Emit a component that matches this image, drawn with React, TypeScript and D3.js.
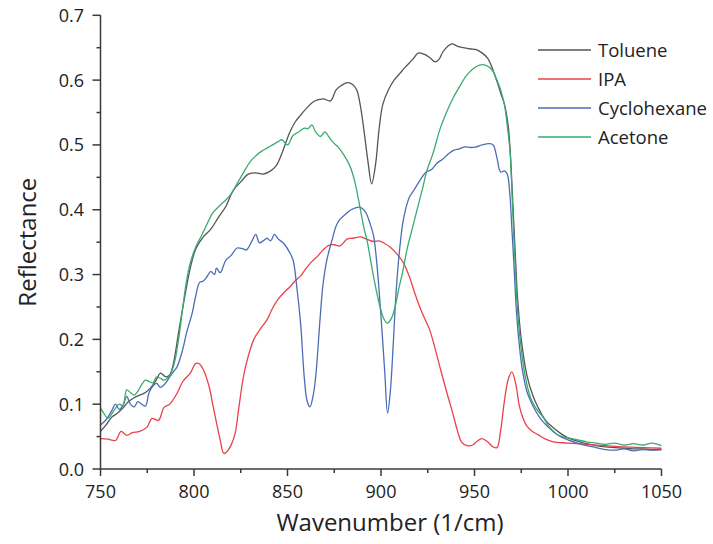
import React from "react";
import * as d3 from "d3";

const xTicks = [750, 800, 850, 900, 950, 1000, 1050];
const xMinor = [775, 825, 875, 925, 975, 1025];
const yTicks = [0, 0.1, 0.2, 0.3, 0.4, 0.5, 0.6, 0.7];
const yMinor = [0.05, 0.15, 0.25, 0.35, 0.45, 0.55, 0.65];

const seriesNames = ["Toluene", "IPA", "Cyclohexane", "Acetone"];
const seriesColors = ["#555555", "#ea4249", "#4a6db5", "#3aaa72"];

const toluene: [number, number][] = [[750,0.058],[753,0.068],[756,0.08],[759,0.086],[762,0.094],[765,0.104],[768,0.11],[771,0.114],[774,0.118],[777,0.126],[780,0.138],[782,0.148],[785,0.142],[787,0.145],[789,0.163],[792,0.215],[795,0.265],[798,0.31],[801,0.34],[805,0.358],[809,0.37],[813,0.388],[817,0.405],[821,0.43],[825,0.443],[829,0.455],[833,0.457],[837,0.455],[841,0.46],[844,0.468],[847,0.487],[851,0.518],[854,0.535],[857,0.546],[860,0.556],[864,0.567],[869,0.571],[873,0.568],[876,0.585],[879,0.592],[882,0.596],[885,0.593],[887,0.585],[889,0.56],[891,0.52],[893,0.475],[895,0.44],[897,0.468],[899,0.525],[901,0.563],[904,0.585],[907,0.6],[910,0.61],[913,0.62],[917,0.632],[920,0.642],[923,0.64],[926,0.635],[929,0.628],[931,0.632],[933,0.643],[936,0.653],[938,0.656],[941,0.652],[944,0.65],[948,0.648],[951,0.647],[954,0.642],[957,0.634],[959,0.622],[962,0.598],[964,0.58],[966,0.563],[968,0.53],[969,0.495],[970,0.44],[971,0.38],[972,0.32],[973,0.265],[975,0.2],[978,0.145],[981,0.115],[984,0.095],[988,0.075],[992,0.064],[996,0.055],[1000,0.048],[1005,0.043],[1010,0.039],[1015,0.036],[1020,0.034],[1025,0.033],[1030,0.032],[1035,0.031],[1040,0.031],[1045,0.03],[1050,0.03]];

const ipa: [number, number][] = [[750,0.047],[754,0.046],[758,0.044],[761,0.058],[764,0.052],[767,0.056],[771,0.058],[775,0.065],[777.5,0.078],[781,0.075],[784,0.095],[787,0.1],[791,0.117],[794,0.135],[798,0.148],[801,0.163],[803,0.162],[805,0.153],[808,0.128],[810,0.1],[812,0.072],[814,0.045],[816,0.024],[818,0.028],[820,0.038],[822,0.055],[824,0.095],[826,0.135],[828,0.163],[832,0.2],[836,0.218],[839,0.23],[842,0.248],[845,0.262],[848,0.272],[851,0.28],[854,0.29],[857,0.298],[860,0.31],[863,0.32],[866,0.328],[869,0.338],[872,0.345],[875,0.346],[878,0.344],[882,0.355],[885,0.356],[889,0.358],[892,0.355],[896,0.351],[899,0.352],[902,0.348],[905,0.342],[909,0.33],[912,0.318],[915,0.298],[918,0.272],[921,0.248],[924,0.228],[926,0.215],[929,0.185],[932,0.152],[935,0.12],[938,0.09],[941,0.058],[943,0.042],[946,0.036],[949,0.037],[951,0.042],[954,0.047],[957,0.042],[960,0.034],[962,0.033],[964,0.06],[966,0.105],[968,0.138],[970,0.15],[972,0.132],[974,0.097],[976,0.078],[978,0.066],[981,0.058],[984,0.053],[988,0.046],[992,0.042],[1000,0.04],[1010,0.038],[1020,0.036],[1030,0.034],[1040,0.033],[1050,0.032]];

const cyclohexane: [number, number][] = [[750,0.068],[753,0.076],[756,0.09],[758,0.1],[760,0.092],[762,0.098],[764,0.112],[766,0.1],[768,0.096],[770,0.104],[772,0.1],[774,0.097],[776,0.118],[778,0.128],[780,0.132],[782,0.126],[784,0.13],[787,0.142],[789,0.15],[791,0.158],[794,0.185],[796,0.21],[799,0.24],[801,0.268],[803,0.288],[805,0.29],[807,0.297],[809,0.305],[811,0.3],[812,0.31],[814,0.303],[817,0.322],[820,0.33],[823,0.341],[826,0.34],[828,0.338],[831,0.352],[833,0.362],[835,0.349],[837,0.352],[839,0.356],[841,0.352],[843,0.362],[845,0.355],[848,0.348],[851,0.335],[853,0.322],[855,0.28],[857,0.225],[859,0.14],[860.5,0.105],[862,0.096],[863.5,0.11],[865,0.14],[867.5,0.235],[869,0.285],[871,0.322],[874,0.355],[876,0.375],[878,0.385],[881,0.393],[884,0.4],[888,0.404],[890,0.402],[892,0.395],[894,0.38],[896,0.36],[898,0.31],[900,0.235],[902,0.15],[903.5,0.086],[905,0.12],[906.5,0.19],[908,0.27],[910,0.34],[912,0.385],[915,0.418],[918,0.432],[921,0.446],[924,0.458],[927,0.462],[930,0.472],[933,0.478],[936,0.486],[939,0.492],[942,0.494],[945,0.497],[948,0.496],[951,0.497],[954,0.5],[958,0.502],[960,0.5],[962,0.48],[964,0.458],[966,0.46],[967.5,0.455],[969,0.42],[970,0.37],[971,0.32],[972.5,0.24],[974,0.19],[975.5,0.155],[978,0.12],[980,0.105],[983,0.088],[986,0.075],[989,0.066],[992,0.058],[996,0.05],[1000,0.045],[1005,0.04],[1010,0.036],[1015,0.033],[1020,0.03],[1025,0.029],[1030,0.031],[1035,0.028],[1040,0.03],[1045,0.029],[1050,0.03]];

const acetone: [number, number][] = [[750,0.094],[752,0.085],[754,0.078],[756,0.085],[758,0.094],[760,0.1],[762,0.098],[764,0.122],[766,0.118],[768,0.114],[770,0.12],[772,0.13],[774,0.137],[776,0.135],[778,0.133],[780,0.142],[782,0.14],[784,0.137],[786,0.141],[788,0.15],[790,0.17],[792,0.205],[794,0.25],[796,0.29],[798,0.318],[801,0.343],[804,0.36],[807,0.378],[810,0.395],[814,0.407],[817,0.415],[820,0.425],[823,0.44],[826,0.455],[830,0.474],[833,0.483],[836,0.49],[839,0.495],[842,0.5],[845,0.505],[847,0.508],[850,0.5],[853,0.515],[856,0.52],[859,0.526],[861,0.525],[863,0.531],[865,0.52],[867.5,0.513],[870,0.52],[872,0.513],[874,0.505],[877,0.497],[880,0.485],[883,0.47],[885,0.454],[887,0.43],[889,0.4],[891,0.37],[892.5,0.353],[896,0.297],[899.5,0.25],[901.5,0.232],[903.4,0.225],[905.5,0.232],[907.5,0.25],[909.5,0.278],[911.8,0.307],[914,0.34],[917,0.374],[920,0.408],[922.5,0.436],[924.4,0.459],[927.8,0.487],[931.5,0.524],[935,0.55],[938.5,0.572],[942,0.59],[946,0.608],[951,0.621],[954.5,0.624],[958,0.62],[960,0.613],[962,0.6],[964,0.585],[966,0.562],[967.5,0.53],[969,0.49],[970,0.43],[971,0.36],[972,0.3],[973,0.245],[975,0.185],[977,0.145],[980,0.11],[983,0.093],[986.5,0.081],[990,0.065],[995,0.052],[1000,0.048],[1005,0.045],[1010,0.042],[1015,0.04],[1020,0.038],[1025,0.04],[1030,0.037],[1035,0.039],[1040,0.037],[1045,0.04],[1050,0.036]];

const seriesData = [toluene, ipa, cyclohexane, acetone];

const W = 713;
const H = 544;
const FONT = "'Open Sans', 'Noto Sans', sans-serif";
const AXIS = "#3a3a3a";

export default function App() {
  const x = d3.scaleLinear().domain([750, 1050]).range([100.5, 661.5]);
  const y = d3.scaleLinear().domain([0, 0.7]).range([469, 15.3]);
  const line = d3
    .line<[number, number]>()
    .x((d) => x(d[0]))
    .y((d) => y(d[1]))
    .curve(d3.curveCatmullRom.alpha(0.5));
  const fmt = d3.format(".1f");

  return (
    <svg
      width={W}
      height={H}
      style={{ position: "absolute", left: 0, top: 0, background: "#fff" }}
      fontFamily={FONT}
    >
      <rect width={W} height={H} fill="#fff" />
      {seriesData.map((s, i) => (
        <path
          key={seriesNames[i]}
          d={line(s) || ""}
          fill="none"
          stroke={seriesColors[i]}
          strokeWidth={1.3}
          strokeLinejoin="round"
        />
      ))}
      {/* axes */}
      <line x1={x(750)} x2={x(1050)} y1={y(0)} y2={y(0)} stroke={AXIS} strokeWidth={1.5} />
      <line x1={x(750)} x2={x(750)} y1={y(0)} y2={y(0.7)} stroke={AXIS} strokeWidth={1.5} />
      {xTicks.map((t) => (
        <g key={"xt" + t}>
          <line x1={x(t)} x2={x(t)} y1={y(0)} y2={y(0) + 7} stroke={AXIS} strokeWidth={1.5} />
          <text x={x(t)} y={498} textAnchor="middle" fontSize={18} fill="#222">
            {t}
          </text>
        </g>
      ))}
      {xMinor.map((t) => (
        <line key={"xm" + t} x1={x(t)} x2={x(t)} y1={y(0)} y2={y(0) + 4} stroke={AXIS} strokeWidth={1.5} />
      ))}
      {yTicks.map((t) => (
        <g key={"yt" + t}>
          <line x1={x(750) - 8} x2={x(750)} y1={y(t)} y2={y(t)} stroke={AXIS} strokeWidth={1.5} />
          <text x={84} y={y(t) + 6.5} textAnchor="end" fontSize={18} fill="#222">
            {fmt(t)}
          </text>
        </g>
      ))}
      {yMinor.map((t) => (
        <line key={"ym" + t} x1={x(750) - 4} x2={x(750)} y1={y(t)} y2={y(t)} stroke={AXIS} strokeWidth={1.5} />
      ))}
      <text x={390} y={531} textAnchor="middle" fontSize={24} fill="#222">
        Wavenumber (1/cm)
      </text>
      <text
        transform={`translate(36,${(y(0) + y(0.7)) / 2}) rotate(-90)`}
        textAnchor="middle"
        fontSize={24}
        fill="#222"
      >
        Reflectance
      </text>
      {/* legend */}
      {seriesNames.map((n, i) => (
        <g key={"lg" + n} transform={`translate(0,${50 + i * 29})`}>
          <line x1={538} x2={591} y1={0} y2={0} stroke={seriesColors[i]} strokeWidth={1.3} />
          <text x={598} y={6.5} fontSize={18.5} fill="#222">
            {n}
          </text>
        </g>
      ))}
    </svg>
  );
}
